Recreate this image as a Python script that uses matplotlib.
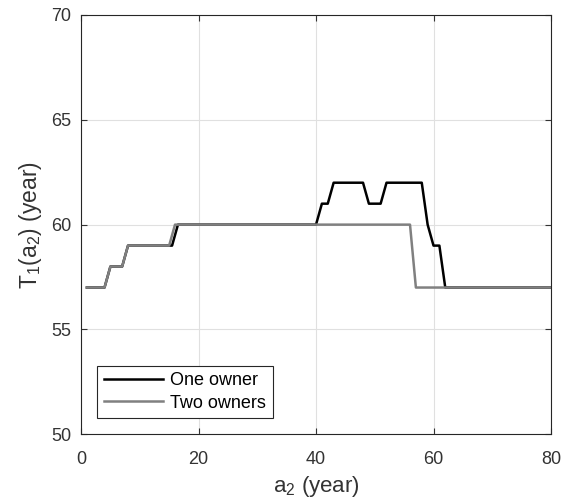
"""
T1(a2) for one owner vs two owners.
"""

import matplotlib
matplotlib.use('Agg')
import matplotlib.pyplot as plt

plt.rcParams['font.family'] = ['Liberation Sans', 'DejaVu Sans']
plt.rcParams['mathtext.default'] = 'regular'

# One owner
a2_one = [1, 4, 5, 7, 8, 15.5, 16.5, 40, 41, 42, 43, 48, 49, 51, 52, 58, 59, 60, 61, 62, 80]
t1_one = [57, 57, 58, 58, 59, 59, 60, 60, 61, 61, 62, 62, 61, 61, 62, 62, 60, 59, 59, 57, 57]

# Two owners
a2_two = [1, 4, 5, 7, 8, 15, 16, 56, 57, 80]
t1_two = [57, 57, 58, 58, 59, 59, 60, 60, 57, 57]

fig = plt.figure(figsize=(5.63, 5.03), dpi=100)
ax = fig.add_axes([0.1439, 0.1366, 0.8348, 0.8336])

ax.plot(a2_one, t1_one, color='black', linewidth=1.8, label='One owner')
ax.plot(a2_two, t1_two, color='#808080', linewidth=1.8, label='Two owners')

ax.set_xlim(0, 80)
ax.set_ylim(50, 70)
ax.set_xticks([0, 20, 40, 60, 80])
ax.set_yticks([50, 55, 60, 65, 70])
ax.grid(True, color='#e0e0e0', linewidth=0.8)
ax.set_axisbelow(True)

ax.tick_params(direction='in', top=True, right=True, length=4, width=0.8,
               colors='#333333', labelsize=13)
ax.tick_params(axis='x', pad=12)
ax.tick_params(axis='y', pad=7)
for s in ax.spines.values():
    s.set_color('#262626')
    s.set_linewidth(0.8)

ax.set_xlabel('a$_2$ (year)', fontsize=16, color='#333333', labelpad=4)
ax.set_ylabel('T$_1$(a$_2$) (year)', fontsize=16.5, color='#333333', labelpad=5)

leg = ax.legend(loc='lower left', fontsize=13, handlelength=3.3, fancybox=False,
                edgecolor='#262626', framealpha=1, borderaxespad=0.9,
                handletextpad=0.4, labelspacing=0.3, borderpad=0.35)
leg.get_frame().set_linewidth(0.8)

plt.savefig('out.png', dpi=100)
plt.close()
